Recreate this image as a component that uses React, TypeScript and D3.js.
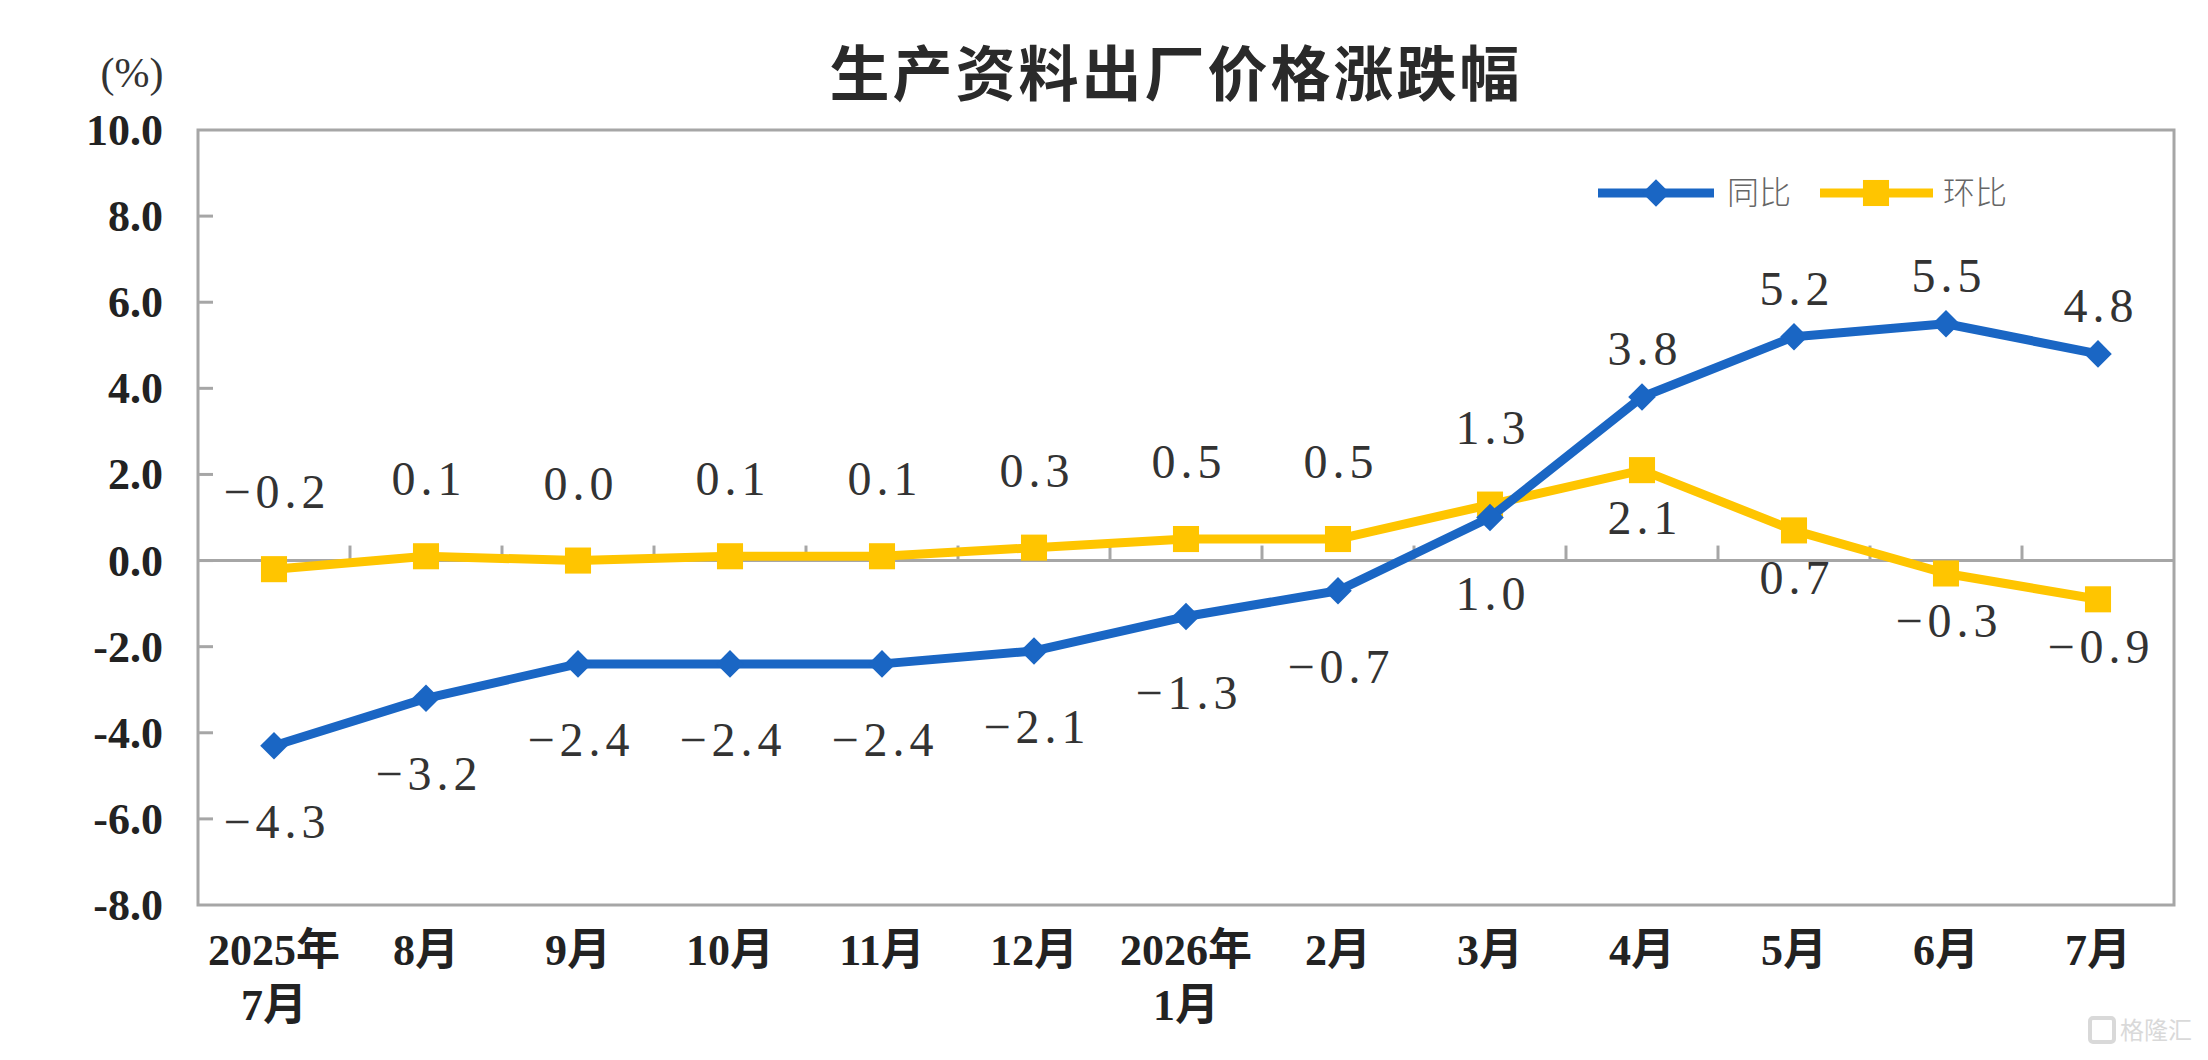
import * as d3 from "d3";

const months = ["2025年|7月", "8月", "9月", "10月", "11月", "12月", "2026年|1月", "2月", "3月", "4月", "5月", "6月", "7月"];
const yoy = [-4.3, -3.2, -2.4, -2.4, -2.4, -2.1, -1.3, -0.7, 1.0, 3.8, 5.2, 5.5, 4.8];
const mom = [-0.2, 0.1, 0.0, 0.1, 0.1, 0.3, 0.5, 0.5, 1.3, 2.1, 0.7, -0.3, -0.9];
// label side per point: 1 = above, -1 = below
const yoySide = [-1, -1, -1, -1, -1, -1, -1, -1, -1, 1, 1, 1, 1];
const momSide = [1, 1, 1, 1, 1, 1, 1, 1, 1, -1, -1, -1, -1];
const yTicks = [10, 8, 6, 4, 2, 0, -2, -4, -6, -8];

const W = 2208;
const H = 1060;
const m = { left: 198, right: 2174, top: 130, bottom: 905 };
const BLUE = "#1a66c4";
const YELLOW = "#ffc500";
const SERIF = "'Liberation Serif', 'Noto Sans CJK SC', serif";
const CJK = "'Noto Sans CJK SC', sans-serif";

export default function App() {
  const x = d3.scaleBand<number>().domain(d3.range(months.length)).range([m.left, m.right]);
  const y = d3.scaleLinear().domain([-8, 10]).range([m.bottom, m.top]);
  const cx = (i: number) => (x(i) ?? 0) + x.bandwidth() / 2;

  const line = d3.line<number>().x((_, i) => cx(i)).y((v) => y(v));
  const diamond = d3.symbol(d3.symbolSquare, 380)() || "";
  const square = d3.symbol(d3.symbolSquare, 680)() || "";
  const fmt = d3.format(".1f");
  const axisFmt = (v: number) => fmt(v).replace("−", "-");

  // offsets differ per series/side, as in the original
  const labelY = (v: number, side: number, above: number, below: number) =>
    side > 0 ? y(v) - above : y(v) + below;

  return (
    <svg width={W} height={H} style={{ position: "absolute", left: 0, top: 0, background: "#fff" }}>
      <text x={1176} y={96} textAnchor="middle" fontFamily={CJK} fontWeight={700} fontSize={60} letterSpacing={3} fill="#2a2a2a">
        生产资料出厂价格涨跌幅
      </text>
      <text x={132} y={87} textAnchor="middle" fontFamily={SERIF} fontSize={42} fill="#333">(%)</text>

      {/* frame */}
      <rect x={m.left} y={m.top} width={m.right - m.left} height={m.bottom - m.top} fill="none" stroke="#a6a6a6" strokeWidth={3} />

      {/* y ticks */}
      {yTicks.map((t) => (
        <g key={t}>
          {t < 10 && t > -8 && <line x1={m.left} x2={m.left + 15} y1={y(t)} y2={y(t)} stroke="#a6a6a6" strokeWidth={3} />}
          <text x={163} y={y(t) + 15} textAnchor="end" fontFamily={SERIF} fontWeight={700} fontSize={44} fill="#222">
            {axisFmt(t)}
          </text>
        </g>
      ))}

      {/* zero axis with category ticks */}
      <line x1={m.left} x2={m.right} y1={y(0)} y2={y(0)} stroke="#a6a6a6" strokeWidth={3} />
      {d3.range(1, months.length).map((i) => (
        <line key={i} x1={x(i)} x2={x(i)} y1={y(0)} y2={y(0) - 15} stroke="#a6a6a6" strokeWidth={3} />
      ))}

      {/* x labels */}
      {months.map((lab, i) => (
        <text key={lab + i} textAnchor="middle" fontFamily={SERIF} fontWeight={700} fontSize={44} fill="#222">
          {lab.split("|").map((part, k) => (
            <tspan key={k} x={cx(i)} y={965 + k * 55}>{part}</tspan>
          ))}
        </text>
      ))}

      {/* series */}
      <path d={line(mom) || ""} fill="none" stroke={YELLOW} strokeWidth={9} strokeLinejoin="round" />
      {mom.map((v, i) => (
        <path key={i} d={square} transform={`translate(${cx(i)},${y(v)})`} fill={YELLOW} />
      ))}
      <path d={line(yoy) || ""} fill="none" stroke={BLUE} strokeWidth={9} strokeLinejoin="round" />
      {yoy.map((v, i) => (
        <path key={i} d={diamond} transform={`translate(${cx(i)},${y(v)}) rotate(45)`} fill={BLUE} />
      ))}

      {/* data labels */}
      <g fontFamily={SERIF} fontSize={48} letterSpacing={5} fill="#333" textAnchor="middle">
        {mom.map((v, i) => (
          <text key={i} x={cx(i) + 3} y={labelY(v, momSide[i], 77, 48) + 16}>{fmt(v)}</text>
        ))}
        {yoy.map((v, i) => (
          <text key={i} x={cx(i) + 3} y={labelY(v, yoySide[i], 48, 76) + 16}>{fmt(v)}</text>
        ))}
      </g>

      {/* legend */}
      <g>
        <line x1={1598} x2={1714} y1={193} y2={193} stroke={BLUE} strokeWidth={9} />
        <path d={diamond} transform="translate(1656,193) rotate(45)" fill={BLUE} />
        <text x={1727} y={204} fontFamily={CJK} fontWeight={300} fontSize={32} fill="#666">同比</text>
        <line x1={1820} x2={1933} y1={193} y2={193} stroke={YELLOW} strokeWidth={9} />
        <path d={square} transform="translate(1876,193)" fill={YELLOW} />
        <text x={1943} y={204} fontFamily={CJK} fontWeight={300} fontSize={32} fill="#666">环比</text>
      </g>

      {/* watermark */}
      <g opacity={0.55}>
        <rect x={2090} y={1018} width={24} height={24} rx={3} fill="none" stroke="#bbb" strokeWidth={4} />
        <text x={2120} y={1039} fontFamily={CJK} fontSize={24} fill="#bbb">格隆汇</text>
      </g>
    </svg>
  );
}
